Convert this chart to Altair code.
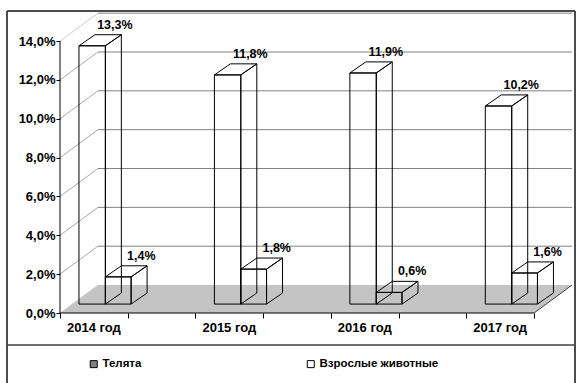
import altair as alt
import pandas as pd

# ---------------- data ----------------
years = ["2014 год", "2015 год", "2016 год", "2017 год"]
calves = [1.4, 1.8, 0.6, 1.6]        # Телята
adults = [13.3, 11.8, 11.9, 10.2]    # Взрослые животные
series = ["Телята", "Взрослые животные"]
series_colors = ["#808080", "#ffffff"]
y_ticks = [0, 2, 4, 6, 8, 10, 12, 14]

# ---------------- geometry (scale units) ----------------
X_MAX, Y_MAX = 3.78, 15.5
AXIS_END = 3.5
WALL_DX, WALL_DY = 0.28, 1.44
BASE = 0.46
BAR_DX, BAR_DY = 0.118, 0.57
TALL_L, MID, SMALL_R = 0.14, 0.335, 0.525
FONT = "Liberation Sans"

XS = alt.Scale(domain=[0, X_MAX], nice=False, zero=False)
YS = alt.Scale(domain=[0, Y_MAX], nice=False, zero=False)
X_AXIS = alt.Axis(values=[k * 0.5 for k in range(8)], labels=False, domain=False,
                  grid=False, tickSize=5, tickColor="black", title=None)
Y_AXIS = alt.Axis(values=y_ticks,
                  labelExpr="replace(format(datum.value, '.1f'), '.', ',') + '%'",
                  domain=False, grid=False, tickSize=4, tickColor="black",
                  labelFont=FONT, labelFontSize=13, labelFontWeight="bold",
                  labelColor="black", labelPadding=1, title=None)


def X(f):
    return alt.X(f, type="quantitative", scale=XS, axis=X_AXIS)


def Y(f):
    return alt.Y(f, type="quantitative", scale=YS, axis=Y_AXIS)


# bars
bars = []
for i in range(len(years)):
    bars.append(dict(id=f"a{i}", left=i + TALL_L, right=i + MID, val=adults[i]))
    bars.append(dict(id=f"c{i}", left=i + MID, right=i + SMALL_R, val=calves[i]))

front = pd.DataFrame([dict(id=b["id"], x1=b["left"], x2=b["right"], y1=BASE,
                           y2=BASE + b["val"]) for b in bars])
top_rows, side_rows, lab_rows = [], [], []
for b in bars:
    t = BASE + b["val"]
    top_rows.append(dict(id=b["id"], yy=t, xa=b["left"], xb=b["right"]))
    top_rows.append(dict(id=b["id"], yy=t + BAR_DY, xa=b["left"] + BAR_DX, xb=b["right"] + BAR_DX))
    side_rows.append(dict(id=b["id"], xx=b["right"], ya=BASE, yb=t))
    side_rows.append(dict(id=b["id"], xx=b["right"] + BAR_DX, ya=BASE + BAR_DY, yb=t + BAR_DY))
    lab_rows.append(dict(lx=b["left"] + 0.265, ly=t + BAR_DY,
                         label=f"{b['val']:.1f}".replace(".", ",") + "%"))
top = pd.DataFrame(top_rows)
side = pd.DataFrame(side_rows)
labels = pd.DataFrame(lab_rows)

# floor
floor = pd.DataFrame([dict(yy=0, xa=0, xb=AXIS_END),
                      dict(yy=WALL_DY, xa=WALL_DX, xb=AXIS_END + WALL_DX)])
floor_edges = pd.DataFrame([
    dict(x1=0, y1=0, x2=WALL_DX, y2=WALL_DY, c="#d8d8d8"),
    dict(x1=AXIS_END, y1=0, x2=AXIS_END + WALL_DX, y2=WALL_DY, c="#404040"),
])

# gridlines on the back wall
grid_rows = []
for v in y_ticks[1:]:
    grid_rows.append(dict(x1=0, y1=v, x2=WALL_DX, y2=v + WALL_DY,
                          c="#cccccc" if v == y_ticks[-1] else "#a8a8a8"))
    grid_rows.append(dict(x1=WALL_DX, y1=v + WALL_DY, x2=X_MAX, y2=v + WALL_DY, c="#808080"))
grid = pd.DataFrame(grid_rows)

axes_lines = pd.DataFrame([
    dict(x1=0, y1=0, x2=0, y2=y_ticks[-1]),
    dict(x1=0, y1=0, x2=AXIS_END, y2=0),
])

cats = pd.DataFrame(dict(cx=[i + 0.25 for i in range(len(years))], cy=[0] * len(years), year=years))
leg = pd.DataFrame(dict(series=series))

# ---------------- layers ----------------
floor_l = alt.Chart(floor).mark_area(orient="horizontal", color="#c4c4c4").encode(
    y=Y("yy"), x=X("xa"), x2="xb")

def rules(df, width=1):
    return alt.Chart(df).mark_rule(strokeWidth=width).encode(
        x=X("x1"), y=Y("y1"), x2="x2", y2="y2",
        color=alt.Color("c:N", scale=None, legend=None))

edges_l = rules(floor_edges)
grid_l = rules(grid)
axes_l = alt.Chart(axes_lines).mark_rule(color="black", strokeWidth=1).encode(
    x=X("x1"), y=Y("y1"), x2="x2", y2="y2")

side_l = alt.Chart(side).mark_area(orient="vertical", fillOpacity=0, stroke="black",
                                   strokeWidth=1).encode(
    x=X("xx"), y=Y("ya"), y2="yb", detail="id:N")
top_l = alt.Chart(top).mark_area(orient="horizontal", fillOpacity=0, stroke="black",
                                 strokeWidth=1).encode(
    y=Y("yy"), x=X("xa"), x2="xb", detail="id:N")
front_l = alt.Chart(front).mark_rect(fillOpacity=0, stroke="black", strokeWidth=1).encode(
    x=X("x1"), x2="x2", y=Y("y1"), y2="y2")

val_l = alt.Chart(labels).mark_text(baseline="bottom", dy=-3, font=FONT, fontSize=12.5,
                                    fontWeight="bold", color="black").encode(
    x=X("lx"), y=Y("ly"), text="label:N")
cat_l = alt.Chart(cats).mark_text(baseline="middle", dy=15, font=FONT, fontSize=13,
                                  fontWeight="bold", color="black").encode(
    x=X("cx"), y=Y("cy"), text="year:N")

leg_l = alt.Chart(leg).mark_square(opacity=0, size=1).encode(
    x=alt.value(0), y=alt.value(0),
    fill=alt.Fill("series:N", scale=alt.Scale(domain=series, range=series_colors),
                  legend=alt.Legend(orient="none", legendX=28, legendY=346,
                                    direction="horizontal", title=None,
                                    symbolType="square", symbolSize=49,
                                    symbolStrokeColor="black", symbolStrokeWidth=1,
                                    symbolOpacity=1, labelFont=FONT, labelFontSize=11.5,
                                    labelFontWeight="bold", labelColor="black",
                                    labelOffset=3, columnPadding=163)))

FR = "#404040"
frame_l = alt.layer(
    alt.Chart(leg).mark_rule(color=FR, strokeWidth=1.5).encode(
        x=alt.value(-53), y=alt.value(-1), y2=alt.value(375)),
    alt.Chart(leg).mark_rule(color=FR, strokeWidth=1.5).encode(
        x=alt.value(515), y=alt.value(-1), y2=alt.value(375)),
    alt.Chart(leg).mark_rule(color=FR, strokeWidth=1.5).encode(
        x=alt.value(-53), x2=alt.value(515), y=alt.value(-1)),
    alt.Chart(leg).mark_rule(color=FR, strokeWidth=1).encode(
        x=alt.value(-53), x2=alt.value(515), y=alt.value(333)),
)

chart = alt.layer(
    floor_l, edges_l, grid_l, axes_l, side_l, top_l, front_l, val_l, cat_l, leg_l, frame_l
).properties(
    width=512, height=301, autosize="none",
    padding={"left": 60, "top": 12, "right": 4, "bottom": 70},
    background="white",
).configure_view(stroke=None)

chart.save("out.html", embed_options={"renderer": "svg", "actions": False})
